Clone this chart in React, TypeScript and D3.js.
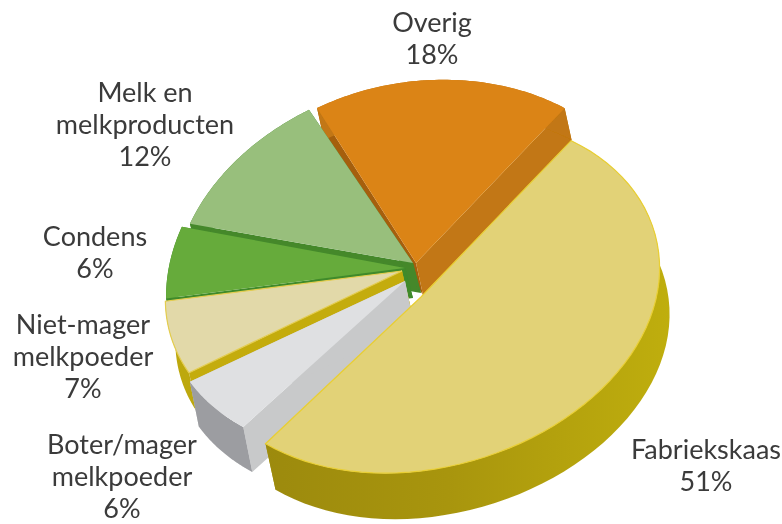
import React from "react";
import * as d3 from "d3";

const categories = ["Fabriekskaas", "Boter/mager melkpoeder", "Niet-mager melkpoeder", "Condens", "Melk en melkproducten", "Overig"];
const values = [51, 6, 7, 6, 12, 18];
const topColors = ["#e2d277", "#dfe0e2", "#e2d9a9", "#66ab3a", "#98bf7c", "#db8416"];
const rightCutColors = ["#a8950e", "#c8c9ca", "#c4ac10", "#3f8a2c", "#44882c", "#c27712"];
const leftCutColors = ["#a8950e", "#c8c9ca", "#c4ac10", "#3f8a2c", "#44882c", "#a55f0a"];
const wallColors = ["url(#wallGold)", "#9c9da1", "#bda80f", "#3f8a2c", "#44882c", "#c27712"];
const strokeColors = ["#e9cf35", "none", "#e4cd50", "none", "none", "none"];
const apexX = [421, 405, 402, 405, 413, 416];
const apexY = [297, 281, 271, 268, 263, 263];
const rxScales = [0.99, 1.03, 1.02, 1.03, 1.03, 0.98];
const ryTops = [178, 190, 194, 190, 184, 182];
const ryBottoms = [174, 172, 175, 172, 167, 165];
const skews = [-0.12, -0.12, -0.12, -0.12, -0.12, -0.09];
const labelLines = [["Fabriekskaas", "51%"], ["Boter/mager", "melkpoeder", "6%"], ["Niet-mager", "melkpoeder", "7%"], ["Condens", "6%"], ["Melk en", "melkproducten", "12%"], ["Overig", "18%"]];
const labelX = [706, 122, 83, 95, 145, 432];
const labelY = [459, 454, 334, 246, 102, 32];

const W = 782, H = 524;
const RX_RIGHT = 241, RX_LEFT = 232;
const DEPTH: [number, number][] = [[10, 46], [9, 45], [10, 42], [8, 30], [8, 30], [7, 32]];

const arcs = d3.pie<number>().sort(null).value((d) => d)
  .startAngle((39 * Math.PI) / 180).endAngle((399 * Math.PI) / 180)(values);

function project(t: number, i: number): [number, number] {
  const c = Math.cos(t), sn = Math.sin(t);
  const dx = (sn > 0 ? RX_RIGHT : RX_LEFT) * rxScales[i] * sn;
  const ry = c > 0 ? ryTops[i] : ryBottoms[i];
  return [apexX[i] + dx, apexY[i] - ry * c + skews[i] * dx];
}
function arcPoints(i: number): [number, number][] {
  const a = arcs[i];
  return d3.range(0, 61).map((k) => project(a.startAngle + ((a.endAngle - a.startAngle) * k) / 60, i));
}
const shift = (pts: [number, number][], i: number): [number, number][] =>
  pts.map(([x, y]) => [x + DEPTH[i][0], y + DEPTH[i][1]]);
const line = d3.line();
const closed = (pts: [number, number][]) => line(pts) + "Z";

const order = [5, 4, 3, 2, 1, 0];

export default function App() {
  return (
    <svg width={W} height={H} style={{ position: "absolute", left: 0, top: 0, background: "#fff" }}>
      <defs>
        <linearGradient id="wallGold" x1="0" x2="1" y1="0" y2="0">
          <stop offset="0" stopColor="#9c8a0d" />
          <stop offset="0.45" stopColor="#a8950e" />
          <stop offset="1" stopColor="#bfae10" />
        </linearGradient>
        <filter id="soft" x="-5%" y="-5%" width="110%" height="110%">
          <feGaussianBlur stdDeviation="0.6" />
        </filter>
      </defs>
      <g filter="url(#soft)">
        {order.map((i) => {
          const pts = arcPoints(i);
          const apex: [number, number] = [apexX[i], apexY[i]];
          const first = pts[0], last = pts[pts.length - 1];
          const sh = (p: [number, number]): [number, number] => [p[0] + DEPTH[i][0], p[1] + DEPTH[i][1]];
          return (
            <g key={categories[i]}>
              <path d={closed([apex, first, sh(first), sh(apex)])} fill={leftCutColors[i]} />
              <path d={closed([apex, last, sh(last), sh(apex)])} fill={rightCutColors[i]} />
              <path d={closed([...pts, ...shift(pts, i).reverse()])} fill={wallColors[i]} />
              <path d={closed([apex, ...pts])} fill={topColors[i]} stroke={strokeColors[i]} strokeWidth={1.2} />
            </g>
          );
        })}
      </g>
      <g filter="url(#soft)" fontFamily="Lato, 'Open Sans', sans-serif" fontSize={27} fill="#3a3a3a" textAnchor="middle">
        {labelLines.map((lines, i) => (
          <text key={categories[i]} x={labelX[i]} y={labelY[i]}>
            {lines.map((l, j) => (
              <tspan key={j} x={labelX[i]} dy={j === 0 ? 0 : 32}>{l}</tspan>
            ))}
          </text>
        ))}
      </g>
    </svg>
  );
}
